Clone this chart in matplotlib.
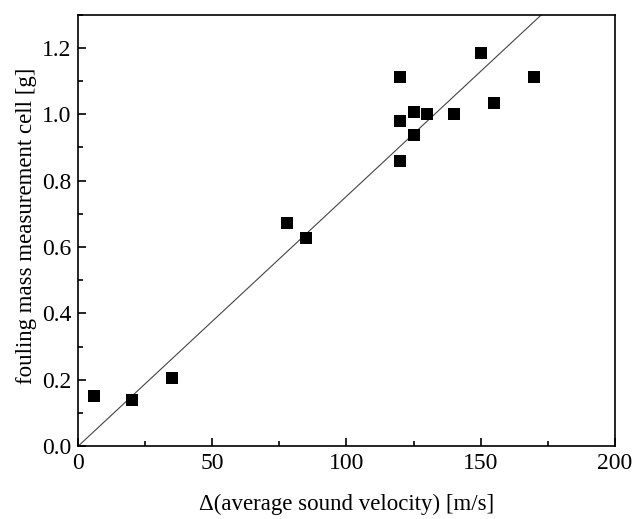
import numpy as np
import matplotlib.pyplot as plt
from matplotlib.ticker import MultipleLocator

plt.rcParams['font.family'] = ['Liberation Serif', 'DejaVu Serif']

# measured points
velocity = [6, 20, 35, 78, 85, 120, 120, 120, 125, 125, 130, 140, 150, 155, 170]
mass = [0.152, 0.140, 0.205, 0.671, 0.626, 1.113, 0.980, 0.860, 1.008, 0.936,
        1.000, 1.000, 1.185, 1.034, 1.113]

# fit line through the origin
fit_x = [0, 172.7]
fit_y = [0, 1.3]

fig = plt.figure(figsize=(6.34, 5.19), dpi=100)
ax = fig.add_axes([0.123, 0.140, 0.847, 0.832])

ax.plot(fit_x, fit_y, color='#444444', lw=0.8)
ax.plot(velocity, mass, 's', color='black', ms=9, markeredgewidth=0)

ax.set_xlim(0, 200)
ax.set_ylim(0, 1.3)
ax.xaxis.set_major_locator(MultipleLocator(50))
ax.xaxis.set_minor_locator(MultipleLocator(25))
ax.yaxis.set_major_locator(MultipleLocator(0.2))
ax.yaxis.set_minor_locator(MultipleLocator(0.1))
ax.yaxis.set_major_formatter('{x:.1f}')
ax.tick_params(which='both', direction='in', labelsize=17, width=1.2, pad=5)
ax.tick_params(which='major', length=6)
ax.tick_params(which='minor', length=3.5)
for s in ax.spines.values():
    s.set_linewidth(1.2)

ax.set_xlabel('Δ(average sound velocity) [m/s]', fontsize=16.5, labelpad=14)
ax.set_ylabel('fouling mass measurement cell [g]', fontsize=16.5)
ax.yaxis.set_label_coords(-0.077, 0.51)

plt.savefig('out.png', dpi=100)
